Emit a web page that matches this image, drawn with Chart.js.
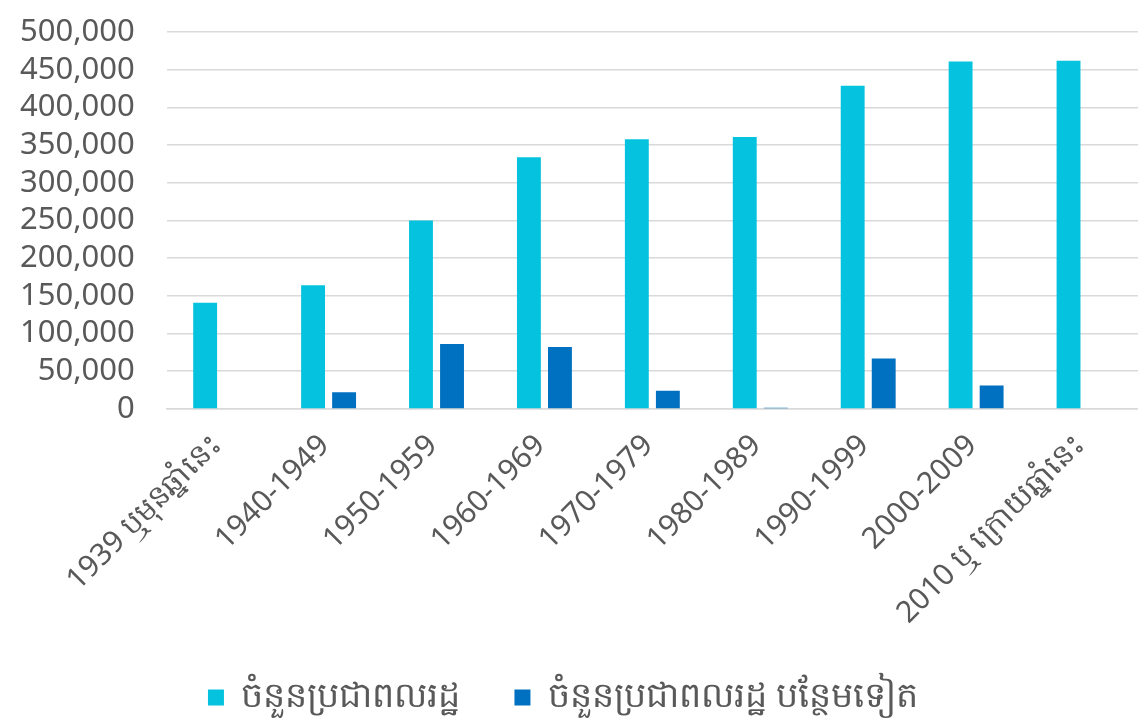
<!DOCTYPE html>
<html>
<head>
<meta charset="utf-8">
<script src="https://cdn.jsdelivr.net/npm/chart.js@4"></script>
<style>
  html, body { margin: 0; padding: 0; background: #fff; }
  #wrap { width: 1138px; height: 719px; position: relative; }
</style>
</head>
<body>
<div id="wrap"><canvas id="chart"></canvas></div>
<script>
const categories = [
    '1939 ឬមុនឆ្នាំនេះ', '1940-1949', '1950-1959', '1960-1969', '1970-1979',
    '1980-1989', '1990-1999', '2000-2009', '2010 ឬ ក្រោយឆ្នាំនេះ'
];
const seriesNames = ['ចំនួនប្រជាពលរដ្ឋ', 'ចំនួនប្រជាពលរដ្ឋ បន្ថែមទៀត'];
const populacion = [141000, 164000, 250000, 334000, 358000, 361000, 429000, 461000, 462000];
const adicional = [null, 22000, 86000, 82000, 24000, 1500, 67000, 31000, null];

const fontFamily = "'Noto Sans', 'Open Sans', sans-serif";

document.addEventListener('DOMContentLoaded', function () {
    const ctx = document.getElementById('chart');
    new Chart(ctx, {
        type: 'bar',
        data: {
            labels: categories,
            datasets: [{
                label: seriesNames[0],
                data: populacion,
                backgroundColor: '#05c3de',
                barPercentage: 0.77,
                categoryPercentage: 0.575
            }, {
                label: seriesNames[1],
                data: adicional,
                backgroundColor: '#0070c0',
                barPercentage: 0.77,
                categoryPercentage: 0.575
            }]
        },
        options: {
            responsive: true,
            maintainAspectRatio: false,
            animation: false,
            layout: { padding: { top: 0, right: 0, left: -12, bottom: -6 } },
            plugins: {
                legend: {
                    position: 'bottom',
                    labels: {
                        color: '#595959',
                        font: { family: fontFamily, size: 35 },
                        boxWidth: 16,
                        boxHeight: 16,
                        padding: 54
                    }
                },
                tooltip: { enabled: false }
            },
            scales: {
                x: {
                    grid: { display: false },
                    border: { color: '#d9d9d9', width: 1.5 },
                    ticks: {
                        color: '#595959',
                        font: { family: fontFamily, size: 30 },
                        minRotation: 45,
                        maxRotation: 45,
                        labelOffset: -4,
                        padding: 11
                    },
                    afterFit: function (scale) {
                        scale.height -= 16;
                    }
                },
                y: {
                    min: 0,
                    max: 500000,
                    border: { display: false },
                    grid: { color: '#d9d9d9', lineWidth: 1.5, drawTicks: false },
                    ticks: {
                        stepSize: 50000,
                        autoSkip: false,
                        color: '#595959',
                        font: { family: fontFamily, size: 31, lineHeight: 0.01 },
                        padding: 32,
                        callback: function (value) {
                            return value.toLocaleString('en-US');
                        }
                    }
                }
            }
        }
    });
});
</script>
</body>
</html>
